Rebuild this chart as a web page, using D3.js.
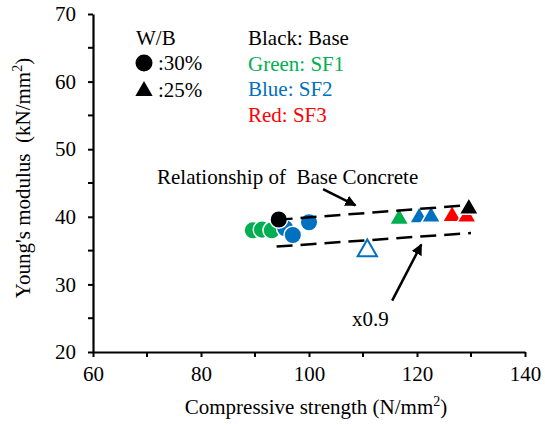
<!DOCTYPE html>
<html>
<head>
<meta charset="utf-8">
<script src="https://cdn.jsdelivr.net/npm/d3@7"></script>
<style>
  body { margin: 0; background: #fff; }
</style>
</head>
<body>
<svg width="545" height="425" font-family="Liberation Serif"></svg>
<script>
// mix colours
var mixNames = ["Base", "SF1", "SF2", "SF3"];
var mixColors = ["#000000", "#00b050", "#0070c0", "#ff0000"];
var colorWords = ["Black", "Green", "Blue", "Red"];

// W/B 30% (circles): compressive strength, Young's modulus
var wb30 = [
  { mix: "SF1", fc: 89.6, e: 38.0 },
  { mix: "SF1", fc: 91.3, e: 38.1 },
  { mix: "SF1", fc: 93.1, e: 38.0 },
  { mix: "SF2", fc: 95.6, e: 38.3 },
  { mix: "Base", fc: 94.4, e: 39.6 },
  { mix: "SF2", fc: 97.0, e: 37.3 },
  { mix: "SF2", fc: 100.0, e: 39.2 }
];

// W/B 25% (triangles)
var wb25 = [
  { mix: "SF2", fc: 110.8, e: 35.0, hollow: true },
  { mix: "SF1", fc: 116.7, e: 39.7 },
  { mix: "SF2", fc: 120.4, e: 39.9 },
  { mix: "SF2", fc: 122.6, e: 40.0 },
  { mix: "SF3", fc: 126.5, e: 40.1 },
  { mix: "SF3", fc: 129.2, e: 40.0 },
  { mix: "Base", fc: 129.6, e: 41.2 }
];

// relationship of base concrete and x0.9 line
var baseLineFc = [94, 130];
var baseLineE = [39.55, 41.75];
var lowLineFc = [94, 130];
var lowLineE = [35.6, 37.6];

var xTicks = [60, 80, 100, 120, 140];
var yTicks = [20, 30, 40, 50, 60, 70];

var svg = d3.select("svg");
var serif = "Liberation Serif";

var x = d3.scaleLinear().domain([60, 140]).range([93, 525]);
var y = d3.scaleLinear().domain([20, 70]).range([352, 14]);

function color(m) { return mixColors[mixNames.indexOf(m)]; }

// axes
var xAxis = svg.append("g")
    .attr("transform", "translate(0," + y(20) + ")")
    .call(d3.axisBottom(x).tickValues(xTicks).tickSize(5).tickPadding(9).tickSizeOuter(0));
xAxis.append("g").selectAll("line")
    .data([70, 90, 110, 130])
    .enter().append("line")
    .attr("x1", function(d) { return x(d); })
    .attr("x2", function(d) { return x(d); })
    .attr("y1", 0).attr("y2", 5)
    .attr("stroke", "#000").attr("stroke-width", 2);

var yAxis = svg.append("g")
    .attr("transform", "translate(" + x(60) + ",0)")
    .call(d3.axisLeft(y).tickValues(yTicks).tickSize(5).tickPadding(12).tickSizeOuter(0));
yAxis.append("g").selectAll("line")
    .data([25, 35, 45, 55, 65])
    .enter().append("line")
    .attr("y1", function(d) { return y(d); })
    .attr("y2", function(d) { return y(d); })
    .attr("x1", 0).attr("x2", -5)
    .attr("stroke", "#000").attr("stroke-width", 2);

xAxis.attr("font-family", serif).attr("font-size", 21);
yAxis.attr("font-family", serif).attr("font-size", 21);
svg.selectAll(".domain").attr("stroke", "#000").attr("stroke-width", 2.2);
svg.selectAll(".tick line").attr("stroke", "#000").attr("stroke-width", 2);
svg.selectAll(".tick text").attr("fill", "#000");

// axis titles
var xt = svg.append("text")
    .attr("x", 316).attr("y", 414)
    .attr("text-anchor", "middle")
    .attr("font-size", 21);
xt.append("tspan").text("Compressive strength (N/mm");
xt.append("tspan").attr("dy", -8).attr("font-size", 14).text("2");
xt.append("tspan").attr("dy", 8).text(")");

var yt = svg.append("text")
    .attr("transform", "translate(30,178) rotate(-90)")
    .attr("text-anchor", "middle")
    .attr("font-size", 21)
    .style("white-space", "pre");
yt.append("tspan").text("Young's modulus  (kN/mm");
yt.append("tspan").attr("dy", -8).attr("font-size", 14).text("2");
yt.append("tspan").attr("dy", 8).text(")");

// markers
var tri = d3.symbol().type(d3.symbolTriangle).size(160);

svg.append("g").selectAll("circle")
    .data(wb30)
    .enter().append("circle")
    .attr("cx", function(d) { return x(d.fc); })
    .attr("cy", function(d) { return y(d.e); })
    .attr("r", 8.8)
    .attr("fill", function(d) { return color(d.mix); })
    .attr("stroke", "#fff")
    .attr("stroke-width", 1.5);

svg.append("g").selectAll("path")
    .data(wb25)
    .enter().append("path")
    .attr("d", tri)
    .attr("transform", function(d) { return "translate(" + x(d.fc) + "," + y(d.e) + ")"; })
    .attr("fill", function(d) { return d.hollow ? "#fff" : color(d.mix); })
    .attr("stroke", function(d) { return d.hollow ? color(d.mix) : "#fff"; })
    .attr("stroke-width", function(d) { return d.hollow ? 2 : 1.5; });

// dashed relationship lines
var line = d3.line()
    .x(function(d) { return x(d[0]); })
    .y(function(d) { return y(d[1]); });

[[baseLineFc, baseLineE], [lowLineFc, lowLineE]].forEach(function(l) {
  svg.append("path")
      .attr("d", line(d3.zip(l[0], l[1])))
      .attr("fill", "none")
      .attr("stroke", "#000")
      .attr("stroke-width", 2.5)
      .attr("stroke-dasharray", "16,8");
});

// annotations with arrows
svg.append("defs").append("marker")
    .attr("id", "arrow")
    .attr("viewBox", "0 0 10 10")
    .attr("refX", 9).attr("refY", 5)
    .attr("markerWidth", 4.5).attr("markerHeight", 4.5)
    .attr("orient", "auto")
  .append("path")
    .attr("d", "M0,0L10,5L0,10z")
    .attr("fill", "#000");

var arrows = [
  { from: [102.6, 44.1], to: [108.6, 41.7] },
  { from: [115.4, 27.6], to: [120.8, 35.9] }
];
arrows.forEach(function(a) {
  svg.append("line")
      .attr("x1", x(a.from[0])).attr("y1", y(a.from[1]))
      .attr("x2", x(a.to[0])).attr("y2", y(a.to[1]))
      .attr("stroke", "#000")
      .attr("stroke-width", 2.5)
      .attr("marker-end", "url(#arrow)");
});

svg.append("text")
    .attr("x", 157).attr("y", 184)
    .attr("font-size", 21)
    .style("white-space", "pre")
    .text("Relationship of  Base Concrete");

svg.append("text")
    .attr("x", 352).attr("y", 326)
    .attr("font-size", 21)
    .text("x0.9");

// legend: W/B symbols
var lg = svg.append("g").attr("font-size", 21);
lg.append("text").attr("x", 136).attr("y", 45).text("W/B");
lg.append("circle").attr("cx", 144).attr("cy", 63).attr("r", 8.5).attr("fill", "#000");
lg.append("text").attr("x", 158).attr("y", 70).text(":30%");
lg.append("path").attr("d", d3.symbol().type(d3.symbolTriangle).size(130))
    .attr("transform", "translate(144,91)").attr("fill", "#000");
lg.append("text").attr("x", 158).attr("y", 97).text(":25%");

// legend: colours
colorWords.forEach(function(w, i) {
  lg.append("text")
      .attr("x", 248).attr("y", 45 + i * 25.5)
      .attr("fill", mixColors[i])
      .text(w + ": " + mixNames[i]);
});
</script>
</body>
</html>
